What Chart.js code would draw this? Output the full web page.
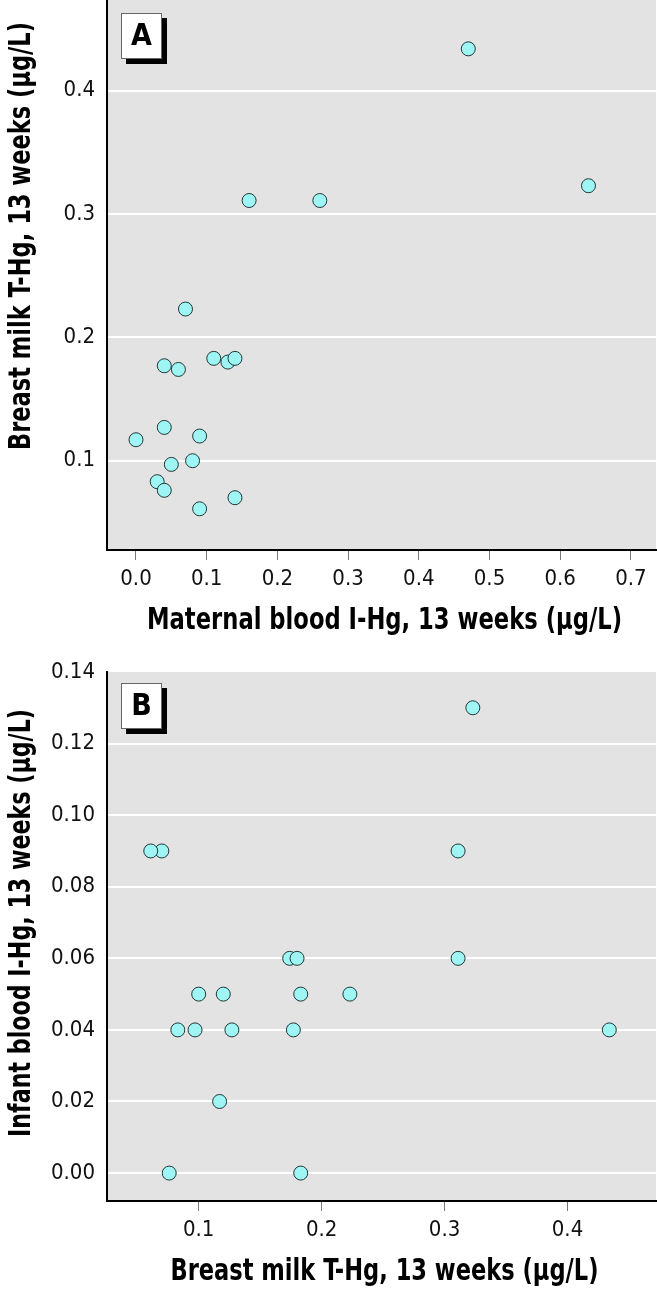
<!DOCTYPE html>
<html>
<head>
<meta charset="utf-8">
<script src="https://cdn.jsdelivr.net/npm/chart.js@4.4.1/dist/chart.umd.min.js"></script>
<style>
  body { margin: 0; background: #fff; }
  canvas { display: block; }
</style>
</head>
<body>
<canvas id="panelA" width="657" height="650"></canvas>
<canvas id="panelB" width="657" height="650"></canvas>
<script>
// one entry per mother/infant pair, all at 13 weeks (ug/L)
const maternalBloodIHg = [0.47, 0.64, 0.16, 0.26, 0.07, 0.04, 0.06, 0.11, 0.13, 0.14, 0.00, 0.04, 0.09, 0.05, 0.08, 0.03, 0.04, 0.14, 0.09];
const breastMilkTHg    = [0.434, 0.323, 0.311, 0.311, 0.223, 0.177, 0.174, 0.183, 0.180, 0.183, 0.117, 0.127, 0.120, 0.097, 0.100, 0.083, 0.076, 0.070, 0.061];
const infantBloodIHg   = [0.04, 0.13, 0.09, 0.06, 0.05, 0.04, 0.06, 0.05, 0.06, 0.00, 0.02, 0.04, 0.05, 0.04, 0.05, 0.04, 0.00, 0.09, 0.09];

// tick values and their labels
const ticksAx = [0, 0.1, 0.2, 0.3, 0.4, 0.5, 0.6, 0.7];
const labelsAx = ['0.0', '0.1', '0.2', '0.3', '0.4', '0.5', '0.6', '0.7'];
const ticksAy = [0.1, 0.2, 0.3, 0.4];
const labelsAy = ['0.1', '0.2', '0.3', '0.4'];
const ticksBx = [0.1, 0.2, 0.3, 0.4];
const labelsBx = ['0.1', '0.2', '0.3', '0.4'];
const ticksBy = [0, 0.02, 0.04, 0.06, 0.08, 0.10, 0.12, 0.14];
const labelsBy = ['0.00', '0.02', '0.04', '0.06', '0.08', '0.10', '0.12', '0.14'];

const FONT = "'Liberation Sans Narrow', 'DejaVu Sans Condensed', 'Arial Narrow', sans-serif";
Chart.defaults.font.family = FONT;
Chart.defaults.color = '#111';

const plotBg = {
  id: 'plotBg',
  beforeDraw(chart) {
    const a = chart.chartArea, c = chart.ctx;
    c.save();
    c.fillStyle = '#e3e3e3';
    c.fillRect(a.left, a.top, a.right - a.left, a.bottom - a.top);
    c.restore();
  }
};

// panel letter box + axis titles (squeezed to the narrow face of the original)
const decor = {
  id: 'decor',
  afterDraw(chart, args, o) {
    const a = chart.chartArea, c = chart.ctx;
    c.save();
    const bx = a.left + 14, by = a.top + o.boxTop, bw = 41, bh = 46;
    c.fillStyle = '#000';
    c.fillRect(bx + 5, by + 5, bw, bh);
    c.fillStyle = '#fff';
    c.fillRect(bx, by, bw, bh);
    c.strokeStyle = '#666';
    c.lineWidth = 1;
    c.strokeRect(bx + 0.5, by + 0.5, bw - 1, bh - 1);
    c.fillStyle = '#000';
    c.font = 'bold 30px ' + FONT;
    c.textAlign = 'center';
    c.textBaseline = 'middle';
    c.fillText(o.letter, bx + bw / 2, by + bh / 2 + 1, 24);
    c.fillText(o.xTitle, (a.left + a.right) / 2 + 3, a.bottom + 71, o.xTitleW);
    c.translate(22, o.titleY);
    c.rotate(-Math.PI / 2);
    c.fillText(o.yTitle, 0, 0, 428);
    c.restore();
  }
};

function makePanel(id, cfg) {
  const pts = cfg.xs.map((x, i) => ({ x: x, y: cfg.ys[i] }));
  return new Chart(document.getElementById(id), {
    type: 'scatter',
    data: {
      datasets: [{
        data: pts,
        pointRadius: 7,
        pointHoverRadius: 7,
        backgroundColor: '#9ff4f4',
        borderColor: '#203838',
        borderWidth: 1
      }]
    },
    options: {
      responsive: false,
      animation: false,
      events: [],
      layout: { autoPadding: false, padding: { top: cfg.padTop, right: 1, left: 0, bottom: 0 } },
      plugins: {
        legend: { display: false },
        tooltip: { enabled: false },
        decor: {
          letter: cfg.letter, xTitle: cfg.xTitle, xTitleW: cfg.xTitleW,
          yTitle: cfg.yTitle, titleY: cfg.titleY, boxTop: cfg.boxTop
        }
      },
      scales: {
        x: {
          type: 'linear',
          min: cfg.xMin, max: cfg.xMax,
          afterBuildTicks: s => { s.ticks = cfg.xTicks.map(v => ({ value: v })); },
          afterFit: s => { s.height = cfg.xAxisH; s.paddingLeft = 0; s.paddingRight = 0; },
          ticks: {
            font: { size: 22 },
            padding: 6,
            maxRotation: 0,
            callback: v => cfg.xLabels[cfg.xTicks.findIndex(t => Math.abs(t - v) < 1e-9)]
          },
          grid: { drawOnChartArea: false, drawTicks: true, tickLength: 10, tickColor: '#777', tickWidth: 1 },
          border: { display: true, color: '#000', width: 2 }
        },
        y: {
          type: 'linear',
          min: cfg.yMin, max: cfg.yMax,
          afterBuildTicks: s => { s.ticks = cfg.yTicks.map(v => ({ value: v })); },
          afterFit: s => { s.width = 107; s.paddingTop = 0; s.paddingBottom = 0; },
          ticks: {
            font: { size: 22 },
            padding: 12,
            callback: v => cfg.yLabels[cfg.yTicks.findIndex(t => Math.abs(t - v) < 1e-9)]
          },
          grid: {
            drawTicks: false,
            lineWidth: 2,
            color: c => (c.tick && Math.abs(c.tick.value - cfg.yMax) < 1e-9) ? 'rgba(0,0,0,0)' : '#fff'
          },
          border: { display: true, color: '#000', width: 2 }
        }
      }
    },
    plugins: [plotBg, decor]
  });
}

makePanel('panelA', {
  xs: maternalBloodIHg, ys: breastMilkTHg,
  xMin: -0.041, xMax: 0.7355, yMin: 0.0276, yMax: 0.4736,
  xTicks: ticksAx, xLabels: labelsAx, yTicks: ticksAy, yLabels: labelsAy,
  xTitle: 'Maternal blood I-Hg, 13 weeks (\u03bcg/L)', xTitleW: 475,
  yTitle: 'Breast milk T-Hg, 13 weeks (\u03bcg/L)',
  letter: 'A', padTop: 0, xAxisH: 100, titleY: 236, boxTop: 13
});

makePanel('panelB', {
  xs: breastMilkTHg, ys: infantBloodIHg,
  xMin: 0.0254, xMax: 0.472, yMin: -0.0078, yMax: 0.14,
  xTicks: ticksBx, xLabels: labelsBx, yTicks: ticksBy, yLabels: labelsBy,
  xTitle: 'Breast milk T-Hg, 13 weeks (\u03bcg/L)', xTitleW: 428,
  yTitle: 'Infant blood I-Hg, 13 weeks (\u03bcg/L)',
  letter: 'B', padTop: 22, xAxisH: 99, titleY: 273, boxTop: 11
});
</script>
</body>
</html>
